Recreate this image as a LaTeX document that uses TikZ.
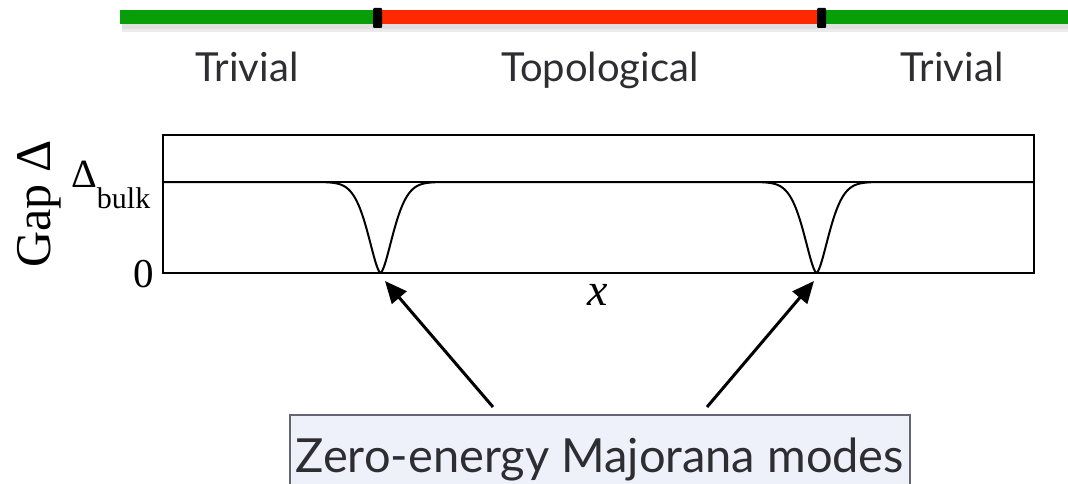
\documentclass[tikz,border=0pt]{standalone}
\usepackage{fontspec}
\setmainfont{Lato}
\newfontfamily\tms{Liberation Serif}
\usetikzlibrary{arrows.meta}
\definecolor{barGreen}{RGB}{8,158,8}
\definecolor{barRed}{RGB}{255,40,0}
\definecolor{boxFill}{RGB}{238,240,250}
\definecolor{boxLine}{RGB}{100,100,115}
\definecolor{txtGray}{RGB}{45,45,50}
\tikzset{
  phaselabel/.style={anchor=base, text=txtGray, font=\fontsize{40}{44}\selectfont, inner sep=0pt},
  seriflabel/.style={anchor=base, inner sep=0pt},
  tickmark/.style={fill=black, rounded corners=1pt},
  bigarrow/.style={line width=3pt, -{Triangle[length=22pt,width=19pt]}},
  plotline/.style={line width=2pt},
}
\pgfmathdeclarefunction{gdip}{1}{\pgfmathparse{1-exp(-(min(abs(#1),4))^1.6)}}
\begin{document}
\begin{tikzpicture}[x=1pt,y=-1pt]
\useasboundingbox (0,0) rectangle (1068,484);
% shadow of the bar
\fill[black, opacity=0.12] (122,23) rectangle (1068,29);
\fill[black, opacity=0.08] (122,29) rectangle (1068,32);
% bar
\fill[barGreen] (120,10) rectangle (378,24);
\fill[barRed] (378,10) rectangle (821,24);
\fill[barGreen] (821,10) rectangle (1068,24);
\fill[tickmark] (373,8) rectangle (382,28);
\fill[tickmark] (817,8) rectangle (826,28);
% phase labels
\node[phaselabel] (triv1) at (247,82) {Trivial};
\node[phaselabel] (topo) at (600,82) {Topological};
\node[phaselabel] (triv2) at (952,82) {Trivial};
% plot frame
\draw[plotline] (163,135) rectangle (1034,273);
\draw[plotline] (163,182) -- (1034,182);
% gap curve
\fill[white] (164,184) rectangle (1033,272);
\draw[plotline, line join=round] plot[domain=164:1033, samples=870]
  (\x, {273 - 91*gdip((\x-380.5)/18)*gdip((\x-816.5)/18)});
% axis labels
\node[seriflabel, rotate=90, font=\tms\fontsize{50}{56}\selectfont] (gap) at (50,204) {Gap Δ};
\node[seriflabel, anchor=base west, font=\tms\fontsize{30}{34}\selectfont] (dbulk) at (71,187) {{\fontsize{40}{44}\selectfont Δ}\raisebox{-21pt}{bulk}};
\node[seriflabel, font=\tms\fontsize{41}{46}\selectfont] (zero) at (144,287) {0};
\node[seriflabel, font=\tms\itshape\fontsize{46}{50}\selectfont] (xlab) at (598,305) {x};
% box
\draw[line width=1.5pt, draw=boxLine, fill=boxFill] (290,415) rectangle (910,500);
\node[anchor=base, inner sep=0pt, text=txtGray, font=\fontsize{47}{52}\selectfont] (modes) at (600,472) {Zero-energy Majorana modes};
% arrows
\coordinate (s1) at (493,407);
\coordinate (t1) at (385,281);
\coordinate (s2) at (707,407);
\coordinate (t2) at (814,281);
\draw[bigarrow] (s1) -- (t1);
\draw[bigarrow] (s2) -- (t2);
\end{tikzpicture}
\end{document}
